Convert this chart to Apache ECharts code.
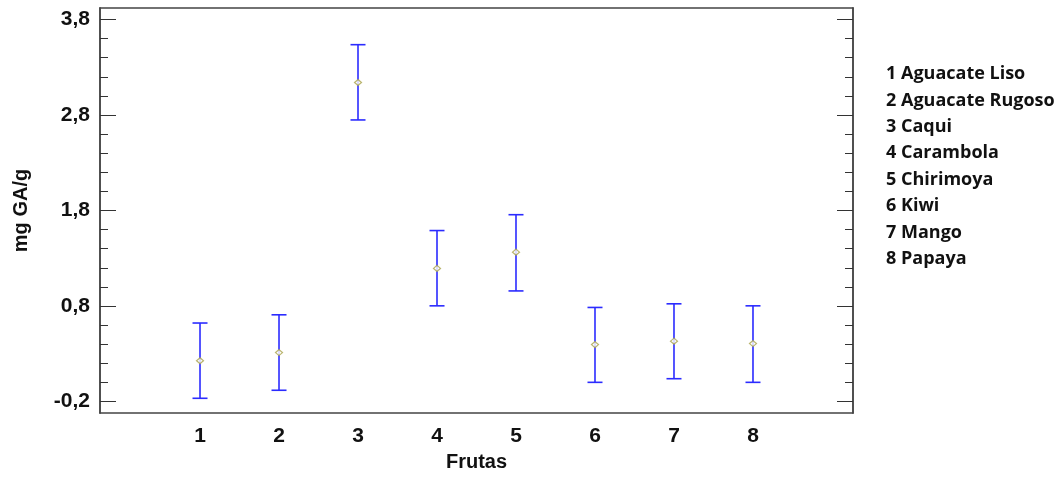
<!DOCTYPE html>
<html>
<head>
<meta charset="utf-8">
<script src="https://cdn.jsdelivr.net/npm/echarts@6/dist/echarts.min.js"></script>
<style>
  html, body { margin: 0; padding: 0; background: #fff; }
  #chart { width: 1062px; height: 477px; }
</style>
</head>
<body>
<div id="chart"></div>
<script>
// fruits (x = 1..8) with mean and interval limits
const frutas = ['1 Aguacate Liso', '2 Aguacate Rugoso', '3 Caqui', '4 Carambola',
  '5 Chirimoya', '6 Kiwi', '7 Mango', '8 Papaya']
const xPos = [1, 2, 3, 4, 5, 6, 7, 8]
const medias = [0.227, 0.313, 3.140, 1.194, 1.364, 0.396, 0.432, 0.407]
const limSup = [0.622, 0.708, 3.536, 1.590, 1.756, 0.785, 0.823, 0.802]
const limInf = [-0.166, -0.082, 2.748, 0.802, 0.958, 0.001, 0.039, 0.001]

// axis ticks
const yMajor = [-0.2, 0.8, 1.8, 2.8, 3.8]
const yMinor = [-0.2, 0, 0.2, 0.4, 0.6, 0.8, 1.0, 1.2, 1.4, 1.6, 1.8, 2.0, 2.2,
  2.4, 2.6, 2.8, 3.0, 3.2, 3.4, 3.6, 3.8]

const Y_MIN = -0.32, Y_MAX = 3.92
const X_MIN = -0.266, X_MAX = 9.266

const chart = echarts.init(document.getElementById('chart'))

const frameLine = { show: true, onZero: false, lineStyle: { color: '#444', width: 1.5 } }
const labelFont = { fontFamily: '"Liberation Sans", Arial, sans-serif', fontWeight: 'bold', fontSize: 21, color: '#111' }

function yAxisDef(position, ticks, len, showLabel) {
  return {
    type: 'value',
    position: position,
    min: Y_MIN,
    max: Y_MAX,
    axisLine: frameLine,
    splitLine: { show: false },
    axisTick: {
      show: true, inside: true, length: len,
      customValues: ticks,
      lineStyle: { color: '#333', width: 1 }
    },
    axisLabel: showLabel ? {
      show: true, margin: 10, ...labelFont,
      customValues: yMajor,
      formatter: v => v.toFixed(1).replace('.', ',')
    } : { show: false },
    name: showLabel ? 'mg GA/g' : '',
    nameLocation: 'middle',
    nameRotate: 90,
    nameGap: 69,
    nameTextStyle: { ...labelFont, fontSize: 20 }
  }
}

const errorData = xPos.map((x, i) => [x, limInf[i], limSup[i]])

const option = {
  animation: false,
  backgroundColor: '#fff',
  grid: { left: 100, top: 8, right: 209, bottom: 63 },
  xAxis: [
    {
      type: 'value',
      position: 'bottom',
      min: X_MIN,
      max: X_MAX,
      axisLine: frameLine,
      axisTick: { show: false },
      splitLine: { show: false },
      axisLabel: {
        show: true, margin: 13, ...labelFont,
        customValues: xPos,
        formatter: v => String(Math.round(v))
      },
      name: 'Frutas',
      nameLocation: 'middle',
      nameGap: 39,
      nameTextStyle: { ...labelFont, fontSize: 20 }
    },
    {
      type: 'value',
      position: 'top',
      min: X_MIN,
      max: X_MAX,
      axisLine: frameLine,
      axisTick: { show: false },
      axisLabel: { show: false },
      splitLine: { show: false }
    }
  ],
  yAxis: [
    yAxisDef('left', yMajor, 16, true),
    yAxisDef('left', yMinor, 8, false),
    yAxisDef('right', yMajor, 16, false),
    yAxisDef('right', yMinor, 8, false)
  ],
  graphic: frutas.map((t, i) => ({
    type: 'text',
    left: 886,
    top: 65 + i * 26.4,
    style: {
      text: t,
      font: 'bold 18px "Open Sans", sans-serif',
      fill: '#111'
    }
  })),
  series: [
    {
      type: 'custom',
      xAxisIndex: 0,
      yAxisIndex: 0,
      data: errorData,
      renderItem: (params, api) => {
        const top = api.coord([api.value(0), api.value(2)])
        const bot = api.coord([api.value(0), api.value(1)])
        const half = 7.5
        const st = { stroke: '#2b2bff', lineWidth: 1.6 }
        return {
          type: 'group',
          children: [
            { type: 'line', shape: { x1: top[0], y1: top[1], x2: bot[0], y2: bot[1] }, style: st },
            { type: 'line', shape: { x1: top[0] - half, y1: top[1], x2: top[0] + half, y2: top[1] }, style: st },
            { type: 'line', shape: { x1: bot[0] - half, y1: bot[1], x2: bot[0] + half, y2: bot[1] }, style: st }
          ]
        }
      },
      z: 2
    },
    {
      type: 'scatter',
      xAxisIndex: 0,
      yAxisIndex: 0,
      data: xPos.map((x, i) => [x, medias[i]]),
      symbol: 'diamond',
      symbolSize: [7, 6],
      itemStyle: { color: '#fff', borderColor: '#a9a24a', borderWidth: 1.2 },
      z: 3
    }
  ]
}

chart.setOption(option)
</script>
</body>
</html>
